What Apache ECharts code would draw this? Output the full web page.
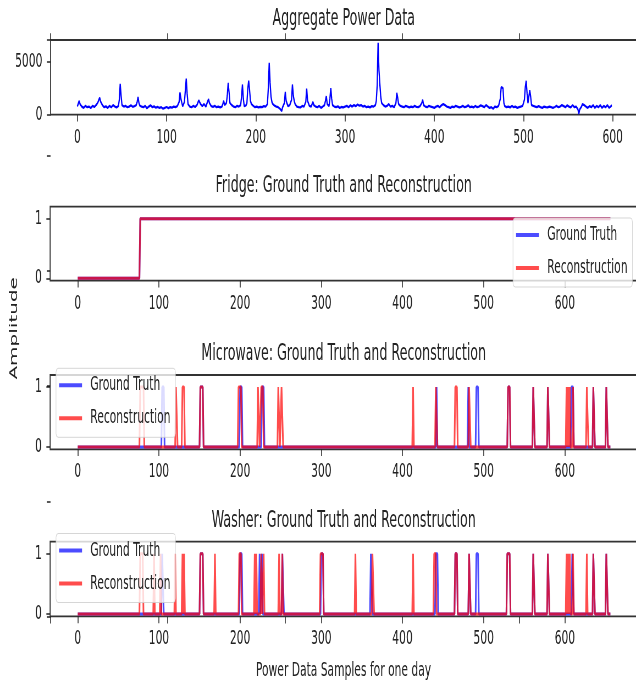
<!DOCTYPE html>
<html>
<head>
<meta charset="utf-8">
<script src="https://cdn.jsdelivr.net/npm/echarts@6/dist/echarts.min.js"></script>
<style>
html, body { margin:0; padding:0; overflow:hidden; background:#fff; width:636px; height:686px; }
#c { position:absolute; left:0; top:0; width:1157px; height:686px; transform:scaleX(0.549697); transform-origin:0 0; }
</style>
</head>
<body>
<div id="c"></div>
<script>
// ---------------- data ----------------
const titles = ['Aggregate Power Data', 'Fridge: Ground Truth and Reconstruction',
  'Microwave: Ground Truth and Reconstruction', 'Washer: Ground Truth and Reconstruction'];
const legendNames = ['Ground Truth', 'Reconstruction'];
const xTickValues = [0, 100, 200, 300, 400, 500, 600];
const aggYTicks = [0, 5000];
const binYTicks = [0, 1];
const bigTicks = [0, 0.2, 0.4, 0.6, 0.8, 1];
const xAxisLabel = 'Power Data Samples for one day';
const yAxisLabel = 'Amplitude';
const lastSample = 656;

// aggregate power [sample, watts]
const aggregatePower = [
[0,760],[1,1050],[2,1290],[3,1000],[5,760],[7,640],[9,820],[11,700],[13,760],[15,620],[17,820],[19,730],[21,900],[23,1150],[25,1600],[26,1250],[28,900],[30,700],[32,780],[34,640],[36,820],[38,700],[40,900],[42,760],[44,680],[46,820],[47,1400],[48,2900],[49,1800],[50,900],[52,760],[54,820],[56,700],[58,760],[60,880],[62,740],[64,800],[66,900],[67,1200],[68,1650],[69,1100],[70,840],[72,760],[74,700],[76,820],[78,600],[80,760],[82,880],[84,700],[86,780],[88,650],[90,720],[92,640],[94,700],[96,560],[98,640],[100,720],[102,620],[104,700],[106,660],[108,760],[110,700],[112,800],[114,1200],[115,2100],[116,1500],[118,780],[120,1200],[121,2300],[122,3400],[123,2000],[124,1000],[126,760],[128,700],[130,820],[132,720],[134,900],[136,1350],[137,1400],[138,1000],[140,800],[142,1000],[144,760],[146,1250],[147,1450],[148,1100],[150,800],[152,740],[154,820],[156,700],[158,760],[160,680],[162,760],[163,1000],[164,1300],[165,900],[167,1100],[168,1800],[169,3000],[170,2100],[171,1100],[172,1200],[173,900],[175,760],[177,700],[179,820],[181,760],[183,900],[184,1700],[185,2850],[186,1500],[187,800],[189,880],[190,1100],[191,2500],[192,3200],[193,2300],[194,1300],[195,1000],[197,840],[199,700],[201,760],[203,680],[205,740],[207,700],[209,800],[211,760],[213,1000],[214,2500],[215,4900],[216,3000],[217,1700],[218,1200],[219,1000],[221,840],[223,760],[225,700],[227,560],[229,340],[230,700],[232,1100],[233,2150],[234,1300],[236,800],[238,900],[240,1400],[241,2850],[242,1800],[243,1300],[244,1000],[246,760],[248,700],[250,680],[252,820],[254,760],[256,1200],[257,2450],[258,1300],[260,820],[262,760],[264,1200],[265,900],[267,760],[269,700],[271,820],[273,640],[275,760],[277,900],[278,1300],[279,1740],[280,1000],[282,800],[283,1500],[284,2500],[285,1500],[286,900],[288,760],[290,700],[292,780],[294,640],[296,720],[298,680],[300,760],[302,820],[304,700],[306,880],[308,760],[310,900],[312,800],[314,960],[316,840],[318,900],[320,760],[322,820],[324,700],[326,760],[328,680],[330,800],[332,760],[334,900],[335,1300],[336,2800],[337,6800],[338,4200],[339,2900],[340,1700],[341,1100],[343,900],[345,760],[347,820],[349,1000],[351,760],[353,820],[355,700],[357,1100],[358,2050],[359,1600],[360,1000],[362,820],[364,760],[366,700],[368,820],[370,760],[372,680],[374,760],[376,700],[378,820],[380,740],[382,700],[384,800],[386,1100],[387,1400],[388,900],[390,760],[392,700],[394,820],[396,760],[398,700],[400,640],[402,760],[404,820],[406,700],[408,880],[410,1000],[411,1100],[412,900],[414,760],[416,700],[418,640],[420,760],[422,700],[424,820],[426,760],[428,680],[430,740],[432,820],[434,700],[436,760],[438,880],[440,700],[442,760],[444,680],[446,820],[448,700],[450,760],[452,880],[454,800],[456,700],[458,900],[460,760],[462,640],[464,700],[466,560],[468,760],[470,700],[472,820],[474,1500],[475,2600],[476,2700],[477,2500],[478,1100],[479,800],[481,700],[483,760],[485,680],[487,820],[489,700],[491,760],[493,640],[495,700],[497,760],[499,820],[501,1400],[502,2600],[503,3200],[504,2000],[505,1100],[506,1200],[507,2300],[508,1700],[509,900],[511,820],[513,760],[515,700],[517,800],[519,700],[521,640],[523,760],[525,700],[527,680],[529,760],[531,700],[533,640],[535,720],[537,820],[539,700],[541,760],[543,900],[545,800],[547,700],[549,880],[551,760],[553,680],[555,900],[557,700],[559,760],[561,500],[562,80],[563,500],[565,760],[566,1000],[567,1100],[568,900],[570,760],[572,640],[574,800],[576,700],[578,900],[580,640],[582,820],[584,700],[586,900],[588,640],[590,820],[592,700],[594,900],[596,640],[598,800],[599,880]
];

// ON intervals [first sample, last sample] of the binary appliance states
const fridgeTruthOn = [[77, 656]];
const fridgeReconOn = [[77, 656]];
const microwaveTruthOn = [[104,106],[151,154],[200,202],[227,229],[442,442],[481,481],[491,493],[530,532],[561,562],[579,580],[608,610],[635,636],[651,652]];
const microwaveReconOn = [[77,81],[121,122],[129,131],[151,154],[198,201],[222,223],[226,228],[247,248],[251,252],[413,413],[441,442],[465,467],[482,483],[530,532],[561,562],[579,580],[602,602],[604,604],[606,606],[610,610],[627,628],[635,636],[651,652]];
const washerTruthOn = [[104,105],[151,154],[200,202],[224,224],[227,227],[252,253],[300,302],[361,362],[441,443],[465,467],[482,483],[491,493],[529,532],[561,562],[579,580],[609,610],[635,636],[651,652]];
const washerReconOn = [[77,80],[94,94],[102,102],[120,120],[129,129],[131,131],[151,154],[169,169],[199,201],[218,218],[220,220],[226,226],[229,229],[248,248],[252,252],[299,302],[342,342],[363,364],[413,413],[439,441],[465,467],[482,483],[529,532],[561,562],[579,580],[602,602],[604,604],[606,606],[610,610],[627,627],[635,636],[651,652]];

// ---------------- build ----------------
function stateSeries(on) {
  const pts = [[0, 0]];
  on.forEach(([a, b]) => {
    if (a > 0) pts.push([a - 1, 0]);
    pts.push([a, 1]); pts.push([b, 1]);
    if (b < lastSample) pts.push([b + 1, 0]);
  });
  if (pts[pts.length - 1][0] < lastSample) pts.push([lastSample, 0]);
  return pts;
}

const SX = 636 / 1157;
const vx = px => px / SX;
const W = 1157;
const FONT = 'DejaVu Sans';
const INK = '#222';
const BLUE = 'rgba(0,0,255,0.7)';
const RED = 'rgba(255,0,0,0.7)';

const panelTops = [40, 206.7, 375, 541.7];
const panelH = [74.7, 74, 74.3, 74.7];

const grids = [];
grids.push({ left: vx(50.6), right: W - vx(638.6), top: panelTops[0], height: panelH[0] });
for (let i = 1; i < 4; i++) grids.push({ left: vx(50.1), right: W - vx(639.6), top: panelTops[i], height: panelH[i] });
grids.forEach(g => Object.assign(g, { show: true, borderColor: '#333', borderWidth: 1.8, backgroundColor: 'transparent', containLabel: false, outerBoundsMode: 'none' }));
grids.push({ left: vx(50.5), width: vx(586), top: 40, height: 576.7, show: false, containLabel: false, outerBoundsMode: 'none' });

const tickStyle = { lineStyle: { color: INK, width: 1.5 }, length: 6.8 };
const labelStyle = { color: INK, fontSize: 19.5, fontFamily: FONT, formatter: v => String(v) };
const noLine = { show: false, onZero: false };

const xAxes = [];
const yAxes = [];
for (let i = 0; i < 4; i++) {
  xAxes.push({
    type: 'value', gridIndex: i, min: i === 0 ? -30 : -34, max: i === 0 ? 629 : 692, position: 'bottom',
    axisLine: noLine, splitLine: { show: false },
    axisTick: Object.assign({ show: true, customValues: xTickValues }, tickStyle),
    axisLabel: Object.assign({ show: true, customValues: xTickValues, margin: 13 }, labelStyle)
  });
  const yt = i === 0 ? aggYTicks : binYTicks;
  yAxes.push({
    type: 'value', gridIndex: i, min: i === 0 ? -10 : -0.04, max: i === 0 ? 7067 : 1.2, position: 'left',
    axisLine: noLine, splitLine: { show: false },
    axisTick: Object.assign({ show: true, customValues: yt }, tickStyle),
    axisLabel: Object.assign({ show: true, customValues: yt, margin: 15 }, labelStyle)
  });
}
// background axes holding the shared axis labels
xAxes.push({
  type: 'value', gridIndex: 4, min: 0, max: 1, position: 'bottom',
  axisLine: noLine, splitLine: { show: false },
  axisTick: Object.assign({ show: true, customValues: bigTicks }, tickStyle),
  axisLabel: { show: false, customValues: bigTicks },
  name: xAxisLabel, nameLocation: 'middle', nameGap: 44,
  nameTextStyle: { color: INK, fontSize: 19.5, fontFamily: FONT }
});
xAxes.push({
  type: 'value', gridIndex: 4, min: 0, max: 1, position: 'top',
  axisLine: noLine, splitLine: { show: false },
  axisTick: Object.assign({ show: true, customValues: bigTicks }, tickStyle),
  axisLabel: { show: false, customValues: bigTicks }
});
yAxes.push({
  type: 'value', gridIndex: 4, min: 0, max: 1, position: 'left',
  axisLine: noLine, splitLine: { show: false },
  axisTick: Object.assign({ show: true, customValues: bigTicks }, tickStyle),
  axisLabel: { show: false, customValues: bigTicks },
  name: yAxisLabel, nameLocation: 'middle', nameGap: 56,
  nameTextStyle: { color: INK, fontSize: 20, fontFamily: FONT }
});

const title = titles.map((t, i) => ({
  text: t, left: vx(343.7), top: panelTops[i] - 32, textAlign: 'center', padding: 0,
  textStyle: { color: INK, fontSize: 23, fontWeight: 'normal', fontFamily: FONT, lineHeight: 23 }
}));

function lineSeries(name, data, color, idx, width) {
  return {
    name, type: 'line', data, xAxisIndex: idx, yAxisIndex: idx,
    showSymbol: false, symbol: 'none', animation: false,
    color, itemStyle: { color }, lineStyle: { color, width, join: 'bevel' },
    emphasis: { disabled: true }
  };
}

const series = [
  lineSeries('Aggregate', aggregatePower, '#0000ff', 0, 2.3),
  lineSeries(legendNames[0], stateSeries(fridgeTruthOn), BLUE, 1, 3),
  lineSeries(legendNames[1], stateSeries(fridgeReconOn), RED, 1, 3),
  lineSeries(legendNames[0], stateSeries(microwaveTruthOn), BLUE, 2, 3),
  lineSeries(legendNames[1], stateSeries(microwaveReconOn), RED, 2, 3),
  lineSeries(legendNames[0], stateSeries(washerTruthOn), BLUE, 3, 3),
  lineSeries(legendNames[1], stateSeries(washerReconOn), RED, 3, 3)
];

function legendAt(left, top) {
  return {
    data: legendNames, orient: 'vertical', left, top, selectedMode: false,
    backgroundColor: 'rgba(255,255,255,0.8)', borderColor: 'rgba(204,204,204,0.8)',
    borderWidth: 1, borderRadius: 4, padding: [7, 9, 9, 5.5], itemGap: 13,
    itemWidth: vx(23), itemHeight: 4, icon: 'rect',
    textStyle: { color: INK, fontSize: 19.5, fontFamily: FONT, lineHeight: 20, padding: [0, 0, 0, 10] }
  };
}

const chart = echarts.init(document.getElementById('c'), null, { width: 1157, height: 686, renderer: 'canvas' });
chart.setOption({
  animation: false,
  backgroundColor: '#fff',
  title,
  grid: grids,
  xAxis: xAxes,
  yAxis: yAxes,
  legend: [legendAt(vx(513), 218), legendAt(vx(56), 368.3), legendAt(vx(56), 533.5)],
  series
});
</script>
</body>
</html>
